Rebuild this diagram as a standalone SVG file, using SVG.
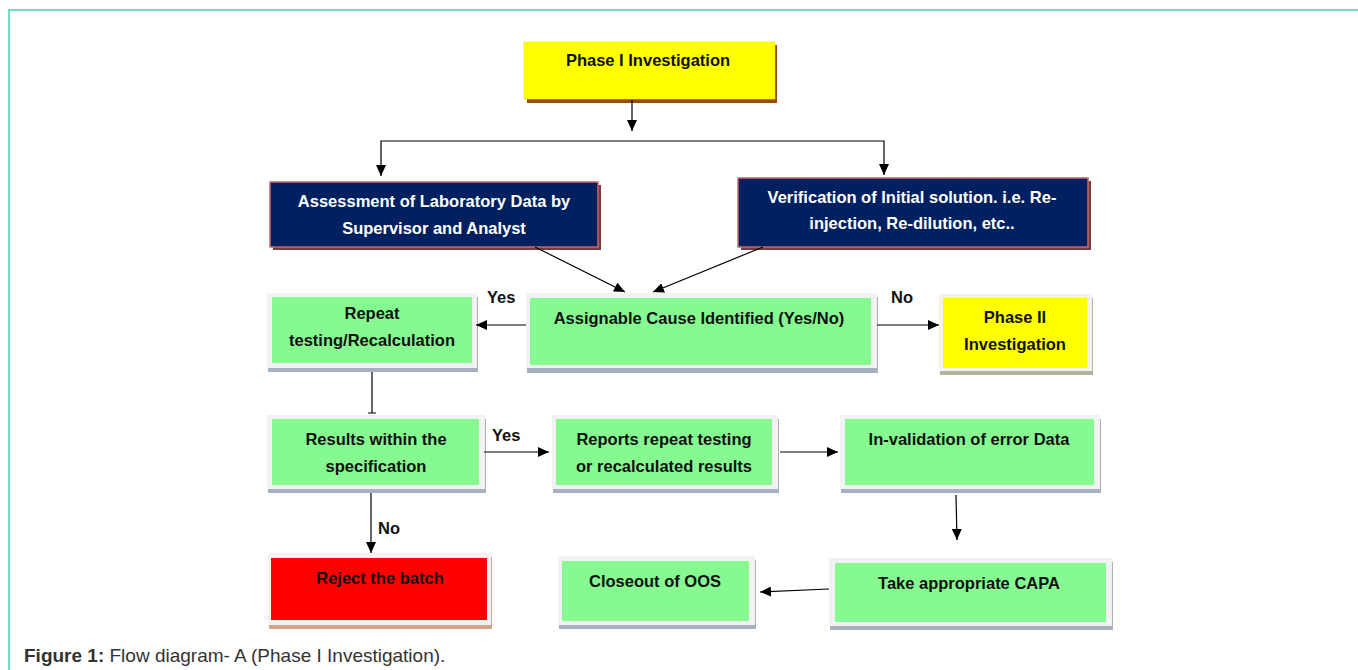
<svg xmlns="http://www.w3.org/2000/svg" width="1358" height="670" viewBox="0 0 1358 670">
<defs>
<marker id="ah" markerUnits="userSpaceOnUse" markerWidth="12" markerHeight="10" viewBox="0 0 12 10" refX="11" refY="5" orient="auto">
<path d="M0,0 L11,5 L0,10 Z" fill="#000"/>
</marker>
<style>
.t{font-family:"Liberation Sans",Arial,sans-serif;font-weight:bold;font-size:16.5px;text-anchor:middle;fill:#111}
.tw{fill:#fff}
.lbl{font-family:"Liberation Sans",Arial,sans-serif;font-weight:bold;font-size:16.5px;fill:#111}
.c{fill:none;stroke:#000;stroke-width:1.2}
.ca{fill:none;stroke:#000;stroke-width:1.2;marker-end:url(#ah)}
.outer{fill:#f2f2f2}
.gsh{fill:#a7b0bf}
.green{fill:#86fa90}
.yellow{fill:#ffff00}
.navy{fill:#002060;stroke:#c46a68;stroke-width:1.5}
.nsh{fill:#7a3c3c}
</style>
</defs>
<rect width="1358" height="670" fill="#fff"/>
<path d="M9,670 V10 H1358" fill="none" stroke="#45d0bf" stroke-width="1.5"/>

<g id="phase1">
<rect x="527" y="45" width="250" height="58" fill="#9b4a10"/>
<rect x="524" y="42" width="251" height="57" class="yellow" stroke="#e6e600" stroke-width="0.5"/>
<text class="t" x="648" y="66">Phase I Investigation</text>
</g>

<g id="assessment">
<rect x="273" y="185" width="328" height="65" class="nsh"/>
<rect x="270" y="182" width="328" height="65" class="navy"/>
<text class="t tw" x="434" y="207">Assessment of Laboratory Data by</text>
<text class="t tw" x="434" y="234">Supervisor and Analyst</text>
</g>

<g id="verification">
<rect x="741" y="181" width="350" height="69" class="nsh"/>
<rect x="738" y="178" width="350" height="69" class="navy"/>
<text class="t tw" x="912" y="203">Verification of Initial solution. i.e. Re-</text>
<text class="t tw" x="912" y="229">injection, Re-dilution, etc..</text>
</g>

<g id="assignable">
<rect x="527" y="297" width="351" height="76" class="gsh"/>
<rect x="526" y="293" width="351" height="75" class="outer"/>
<rect x="530" y="298" width="341" height="67" class="green"/>
<text class="t" x="699" y="324">Assignable Cause Identified (Yes/No)</text>
</g>

<g id="repeat">
<rect x="268" y="297" width="210" height="75" class="gsh"/>
<rect x="267" y="293" width="210" height="75" class="outer"/>
<rect x="272" y="297" width="200" height="66" class="green"/>
<text class="t" x="372" y="319">Repeat</text>
<text class="t" x="372" y="346">testing/Recalculation</text>
</g>

<g id="phase2">
<rect x="940" y="298" width="153" height="77" fill="#b3b59c"/>
<rect x="939" y="294" width="153" height="77" class="outer"/>
<rect x="943" y="298" width="144" height="70" class="yellow"/>
<text class="t" x="1015" y="323">Phase II</text>
<text class="t" x="1015" y="350">Investigation</text>
</g>

<g id="results">
<rect x="268" y="419" width="218" height="74" class="gsh"/>
<rect x="267" y="415" width="218" height="74" class="outer"/>
<rect x="272" y="419" width="207" height="66" class="green"/>
<text class="t" x="376" y="445">Results within the</text>
<text class="t" x="376" y="472">specification</text>
</g>

<g id="reports">
<rect x="553" y="419" width="226" height="74" class="gsh"/>
<rect x="552" y="415" width="226" height="74" class="outer"/>
<rect x="556" y="419" width="216" height="66" class="green"/>
<text class="t" x="664" y="445">Reports repeat testing</text>
<text class="t" x="664" y="472">or recalculated results</text>
</g>

<g id="invalidation">
<rect x="841" y="419" width="260" height="74" class="gsh"/>
<rect x="840" y="415" width="260" height="74" class="outer"/>
<rect x="845" y="419" width="249" height="66" class="green"/>
<text class="t" x="969" y="445">In-validation of error Data</text>
</g>

<g id="reject">
<rect x="269" y="557" width="223" height="72" fill="#d3a488"/>
<rect x="268" y="553" width="223" height="72" class="outer"/>
<rect x="271" y="558" width="216" height="62" fill="#ff0000"/>
<text class="t" x="380" y="584">Reject the batch</text>
</g>

<g id="closeout">
<rect x="559" y="560" width="197" height="69" class="gsh"/>
<rect x="558" y="556" width="197" height="69" class="outer"/>
<rect x="562" y="561" width="187" height="60" class="green"/>
<text class="t" x="655" y="587">Closeout of OOS</text>
</g>

<g id="capa">
<rect x="830" y="562" width="283" height="68" class="gsh"/>
<rect x="829" y="558" width="283" height="68" class="outer"/>
<rect x="835" y="563" width="271" height="59" class="green"/>
<text class="t" x="969" y="589">Take appropriate CAPA</text>
</g>

<g id="connectors">
<path class="ca" d="M632,100 V131"/>
<path class="ca" d="M632,141 H381 V176"/>
<path class="ca" d="M632,141 H884 V175"/>
<path class="ca" d="M535,247 L625,292"/>
<path class="ca" d="M763,247 L653,292"/>
<path class="ca" d="M526,325 H476"/>
<path class="ca" d="M877,325 H939"/>
<path class="c" d="M372,372 V413 M368,413 H376"/>
<path class="ca" d="M484,452 H549"/>
<path class="ca" d="M780,452 H838"/>
<path class="ca" d="M956,495 L957,540"/>
<path class="ca" d="M829,589 L760,592"/>
<path class="ca" d="M371,493 V553"/>
<text class="lbl" x="487" y="303">Yes</text>
<text class="lbl" x="891" y="303">No</text>
<text class="lbl" x="492" y="441">Yes</text>
<text class="lbl" x="378" y="534">No</text>
</g>

<text x="24" y="662" font-family="'Liberation Sans',Arial,sans-serif" font-size="19" fill="#333"><tspan font-weight="bold">Figure 1:</tspan> Flow diagram- A (Phase I Investigation).</text>
</svg>
